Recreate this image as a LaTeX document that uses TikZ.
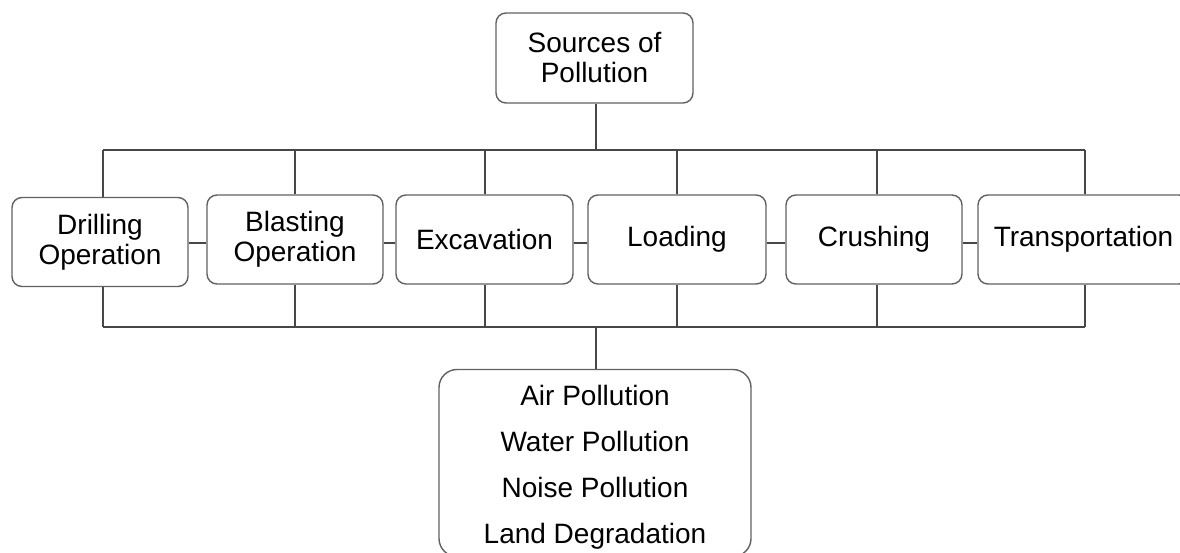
\documentclass[tikz,border=0pt]{standalone}
\usepackage{fontspec}
\setmainfont{Liberation Sans}
\begin{document}
\begin{tikzpicture}[x=1pt,y=1pt,
  box/.style={draw=black!62, line width=1.4pt, rounded corners=10pt, fill=white,
    align=center, inner sep=0pt, minimum height=89pt,
    font=\fontsize{28}{30}\selectfont},
  wire/.style={draw=black!72, line width=1.4pt}]
\path[use as bounding box, clip] (0,0) rectangle (1180,-553);
\fill[white] (0,0) rectangle (1180,-553);

\node[box, minimum width=197pt, minimum height=90pt] (src) at (594.5,-58) {Sources of\\Pollution};

\node[box, minimum width=176pt] (d) at (100,-242) {Drilling\\Operation};
\node[box, minimum width=176pt] (b) at (295,-239.5) {Blasting\\Operation};
\node[box, minimum width=177pt] (e) at (484.5,-239.5) {Excavation};
\node[box, minimum width=178pt] (l) at (677,-239.5) {Loading};
\node[box, minimum width=176pt] (c) at (874,-239.5) {Crushing};
\node[box, minimum width=211pt] (t) at (1083.5,-239.5) {Transportation};

\node[box, rounded corners=18pt, minimum width=312pt, minimum height=187pt] (out) at (595,-463) {};
\node[align=center, inner sep=0pt, font=\fontsize{28}{46}\selectfont] (outtxt)
  at ([yshift=-4pt]out.center)
  {Air Pollution\\Water Pollution\\Noise Pollution\\Land Degradation};

\coordinate (tb) at (596,-150);
\coordinate (bb) at (596,-327);
\coordinate (tl) at (103,-150);
\coordinate (tr) at (1085,-150);
\coordinate (bl) at (103,-327);
\coordinate (br) at (1085,-327);

\draw[wire] (src.south -| tb) -- (tb);
\draw[wire] (tl) -- (tr);
\draw[wire] (bl) -- (br);
\draw[wire] (bb) -- (out.north -| bb);

\draw[wire] (d.north -| tl) -- (tl);
\draw[wire] (d.south -| bl) -- (bl);
\foreach \n/\x in {b/295,e/485,l/677,c/877,t/1085}{
  \draw[wire] (\n.north -| \x,0) -- (\x,-150);
  \draw[wire] (\n.south -| \x,0) -- (\x,-327);
}

\draw[wire] (d.east |- 0,-243) -- (b.west |- 0,-243);
\draw[wire] (b.east |- 0,-243) -- (e.west |- 0,-243);
\draw[wire] (e.east |- 0,-243) -- (l.west |- 0,-243);
\draw[wire] (l.east |- 0,-243) -- (c.west |- 0,-243);
\draw[wire] (c.east |- 0,-243) -- (t.west |- 0,-243);
\end{tikzpicture}
\end{document}
